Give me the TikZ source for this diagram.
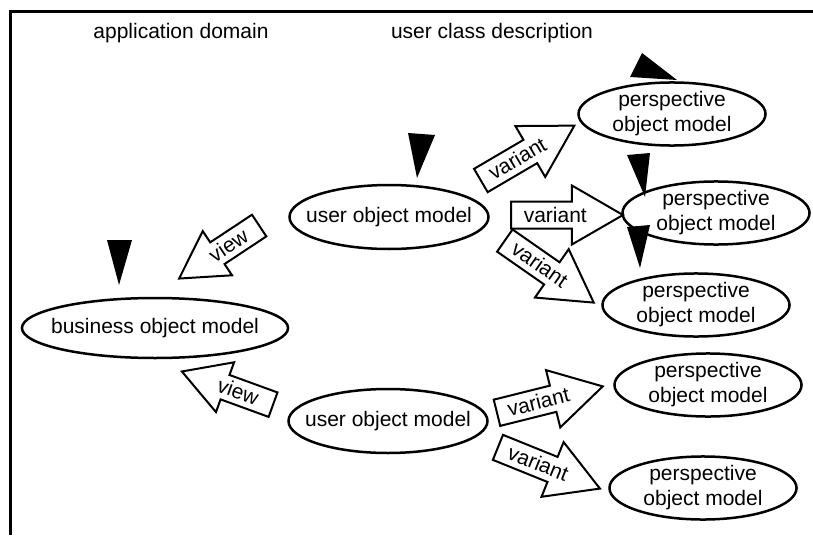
\documentclass[tikz,border=0pt]{standalone}
\usepackage{fontspec}
\setmainfont{Liberation Sans}
\usetikzlibrary{shapes.geometric,shapes.arrows}

\begin{document}
\begin{tikzpicture}[x=0.5pt, y=-0.5pt,
    model/.style={ellipse, draw, line width=1.25pt, inner ysep=-3pt, align=center,
                  font=\fontsize{10.5}{12.5}\selectfont},
    persp/.style={model, inner xsep=3.3pt, inner ysep=0pt, minimum width=93.5pt, minimum height=31pt},
    usermodel/.style={model, inner xsep=-6.3pt, minimum width=99.5pt, minimum height=32pt},
    busmodel/.style={model, inner xsep=-4.9pt, minimum width=133pt, minimum height=30pt},
    header/.style={font=\fontsize{10.5}{12.5}\selectfont},
    blockarrow/.style={single arrow, draw, line width=1pt, fill=white, anchor=tail,
                  single arrow head extend=8pt, single arrow tip angle=60,
                  text height=7.5pt, text depth=0.5pt, inner ysep=2.25pt, inner xsep=5pt,
                  font=\fontsize{10.5}{12.5}\selectfont},
    viewarrow/.style={blockarrow, shape border rotate=180, single arrow head extend=6.75pt,
                  inner ysep=2pt},
    marker/.style={fill=black}
  ]
  \useasboundingbox (0,0) rectangle (813,535);
  \draw[line width=1.5pt] (813,12) -- (10,12) -- (10,535);

  % column headers
  \node[header] (appdom) at (181,33) {application domain};
  \node[header] (ucd) at (492,33) {user class description};

  % models
  \node[busmodel] (bom) at (155,328) {business object model};
  \node[usermodel] (uom1) at (389,217) {user object model};
  \node[usermodel] (uom2) at (388,421) {user object model};
  \node[persp] (pom1) at (672,114) {perspective\\object model};
  \node[persp] (pom2) at (716,213) {perspective\\object model};
  \node[persp] (pom3) at (696,305) {perspective\\object model};
  \node[persp] (pom4) at (708,385) {perspective\\object model};
  \node[persp] (pom5) at (703,488) {perspective\\object model};

  % view arrows
  \node[viewarrow, rotate=33.5, minimum height=48pt] (view1) at (260,225) {view};
  \node[viewarrow, rotate=-20, minimum height=48.5pt] (view2) at (274,405) {view};

  % variant arrows
  \node[blockarrow, rotate=30.4, minimum height=53.5pt] (var1) at (480,181) {variant};
  \node[blockarrow, minimum height=56pt] (var2) at (510,215) {variant};
  \node[blockarrow, rotate=-34.9, minimum height=54pt] (var3) at (504,240) {variant};
  \node[blockarrow, rotate=14, minimum height=54.5pt] (var4) at (496,413) {variant};
  \node[blockarrow, rotate=-22, minimum height=55pt] (var5) at (497,447) {variant};

  % black markers
  \fill[marker] (642,53) -- (630,77) -- (677,80) -- cycle;
  \fill[marker] (408,133) -- (435,135) -- (417,178) -- cycle;
  \fill[marker] (107,240) -- (132,240) -- (119,285) -- cycle;
  \fill[marker] (627,155) -- (650,153) -- (645,197) -- cycle;
  \fill[marker] (627,227) -- (650,225) -- (640,268) -- cycle;
\end{tikzpicture}
\end{document}
